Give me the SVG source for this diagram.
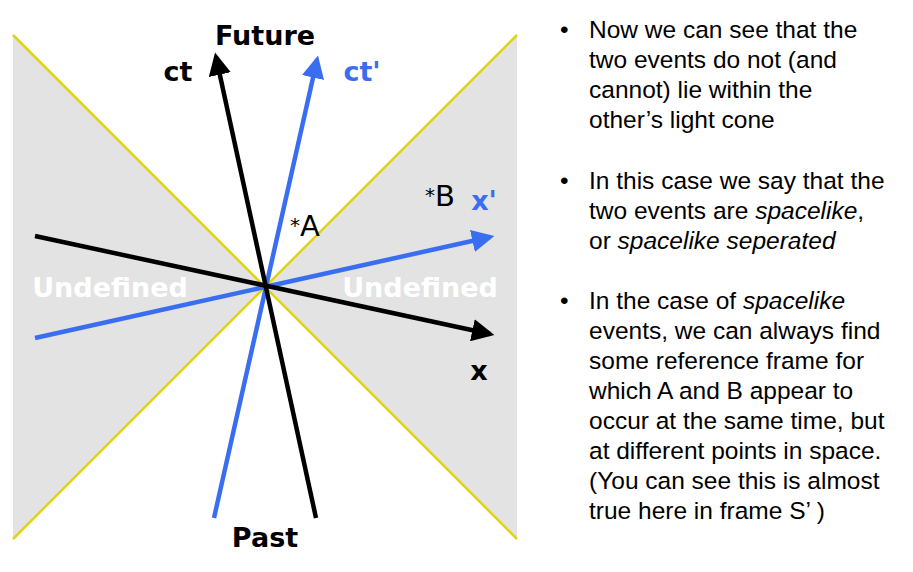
<svg xmlns="http://www.w3.org/2000/svg" width="913" height="572" viewBox="0 0 913 572">
<style>
.b{font-family:"DejaVu Sans",sans-serif;font-weight:bold;font-size:27px}
.t{font-family:"Liberation Sans",Arial,sans-serif;font-size:24.5px;fill:#000}
.ax{stroke-width:4.5;fill:none}
</style>
<defs>
<marker id="ak" viewBox="0 0 10 10" refX="8" refY="5" markerWidth="5" markerHeight="5" orient="auto" markerUnits="strokeWidth"><path d="M0,0 L10,5 L0,10 z" fill="#000"/></marker>
<marker id="ab" viewBox="0 0 10 10" refX="8" refY="5" markerWidth="5" markerHeight="5" orient="auto" markerUnits="strokeWidth"><path d="M0,0 L10,5 L0,10 z" fill="#3a6ef0"/></marker>
</defs>
<rect width="913" height="572" fill="#fff"/>
<g id="cones">
<polygon points="13,35 265,287 13,539" fill="#e3e3e3"/>
<polygon points="517,35 265,287 517,539" fill="#e3e3e3"/>
<path d="M13,35 L517,539 M517,35 L13,539" stroke="#e0d414" stroke-width="2.5"/>
</g>
<g id="connectors">
<line class="ax" x1="35" y1="338" x2="490" y2="237" stroke="#3a6ef0" marker-end="url(#ab)"/>
<line class="ax" x1="214" y1="518" x2="317" y2="60" stroke="#3a6ef0" marker-end="url(#ab)"/>
<line class="ax" x1="35" y1="236" x2="490" y2="334" stroke="#000" marker-end="url(#ak)"/>
<line class="ax" x1="316" y1="518" x2="216" y2="57" stroke="#000" marker-end="url(#ak)"/>
</g>
<g id="labels">
<text class="b" x="265" y="45" text-anchor="middle">Future</text>
<text class="b" x="265" y="547" text-anchor="middle">Past</text>
<text class="b" x="178" y="81" text-anchor="middle">ct</text>
<text class="b" x="362" y="81" text-anchor="middle" fill="#3a6ef0">ct'</text>
<text class="b" x="484" y="210" text-anchor="middle" fill="#3a6ef0">x'</text>
<text class="b" x="479" y="380" text-anchor="middle">x</text>
<text class="b" x="110" y="297" text-anchor="middle" fill="#fff">Undefined</text>
<text class="b" x="420" y="297" text-anchor="middle" fill="#fff">Undefined</text>
<text x="290" y="236" font-family="DejaVu Sans,sans-serif" font-size="29"><tspan font-size="20" dy="-4">*</tspan><tspan dy="4">A</tspan></text>
<text x="425" y="206" font-family="DejaVu Sans,sans-serif" font-size="29"><tspan font-size="20" dy="-4">*</tspan><tspan dy="4">B</tspan></text>
</g>
<g id="text">
<text class="t" x="560" y="38">•</text>
<text class="t" x="589" y="38">Now we can see that the</text>
<text class="t" x="589" y="68">two events do not (and</text>
<text class="t" x="589" y="98">cannot) lie within the</text>
<text class="t" x="589" y="128">other’s light cone</text>
<text class="t" x="560" y="189">•</text>
<text class="t" x="589" y="189">In this case we say that the</text>
<text class="t" x="589" y="219">two events are <tspan font-style="italic">spacelike</tspan>,</text>
<text class="t" x="589" y="249">or <tspan font-style="italic">spacelike seperated</tspan></text>
<text class="t" x="560" y="309">•</text>
<text class="t" x="589" y="309">In the case of <tspan font-style="italic">spacelike</tspan></text>
<text class="t" x="589" y="339">events, we can always find</text>
<text class="t" x="589" y="369">some reference frame for</text>
<text class="t" x="589" y="399">which A and B appear to</text>
<text class="t" x="589" y="429">occur at the same time, but</text>
<text class="t" x="589" y="459">at different points in space.</text>
<text class="t" x="589" y="489">(You can see this is almost</text>
<text class="t" x="589" y="519">true here in frame S’ )</text>
</g>
</svg>
